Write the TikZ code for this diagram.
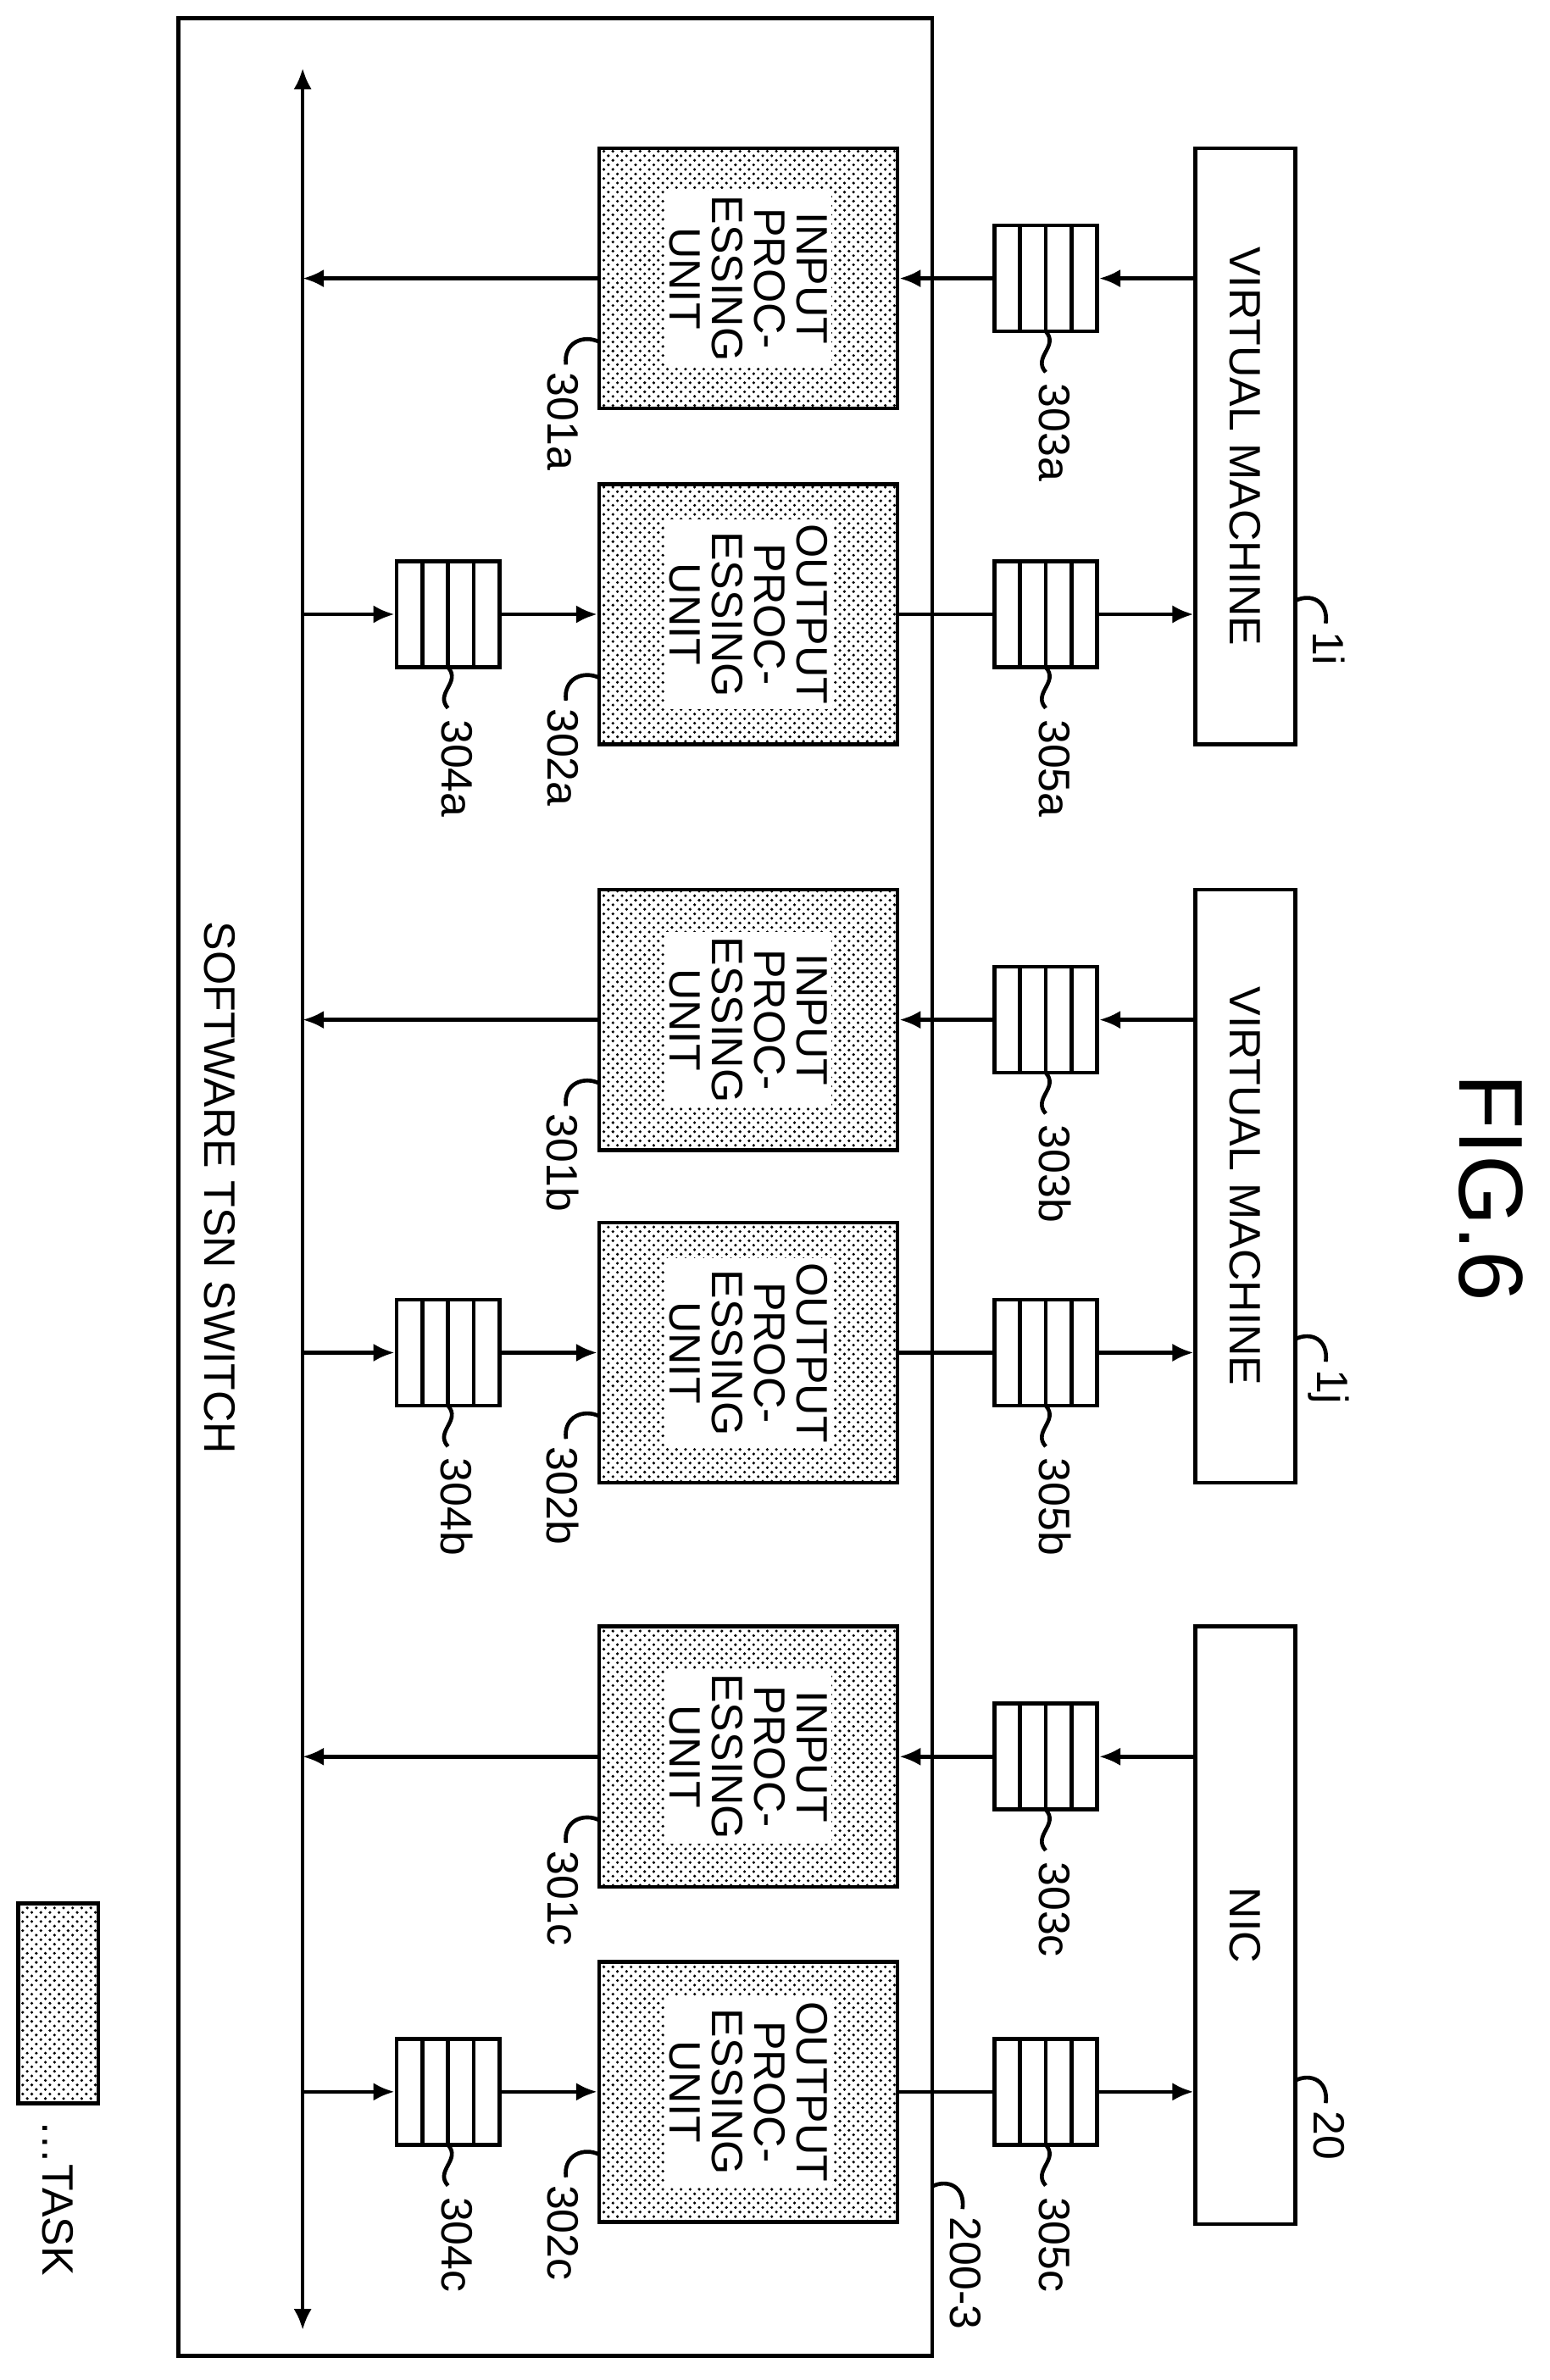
\documentclass[tikz,border=0pt]{standalone}
\usepackage{fontspec}
\setmainfont{Liberation Sans}
\usetikzlibrary{arrows.meta,patterns,calc}
\begin{document}
\begin{tikzpicture}[x=0.5pt,y=-0.5pt,line width=1.3pt,
  arr/.style={-{Latex[length=7pt,width=6pt]}},
  box/.style={draw,minimum width=33pt,minimum height=#1,inner sep=0pt},
  unit/.style={draw,pattern=crosshatch dots,minimum width=98.5pt,minimum height=86pt,inner sep=0pt},
  utext/.style={fill=white,rotate=-90,align=center,font=\fontsize{14.5}{14}\selectfont,inner sep=1.5pt},
  lab/.style={rotate=-90,anchor=west,font=\fontsize{14.5}{16}\selectfont,inner sep=1pt},
  queue/.style={draw,fill=white,minimum width=34pt,minimum height=35pt,inner sep=0pt}]
\useasboundingbox (0,0) rectangle (1024,1573);
\newcommand\Q[3]{\node[queue] (#1) at (#2,#3) {};
  \foreach \i in {-17,0,17} \draw (#2+\i,#3-35) -- (#2+\i,#3+35);
  \draw (#2,#3+35) .. controls (#2+9,#3+45) and (#2-9,#3+52) .. (#2,#3+62);}
\newcommand\UL[3]{\draw (396,#2) .. controls (386,#2-5) and (372,#2) .. (374,#2+15);
  \node[lab] (#1) at (372,#2+17) {#3};}
% frame
\node[draw,minimum width=249pt,minimum height=772.5pt,inner sep=0pt] (sw) at (367,784.5) {};
\node[rotate=-90,font=\fontsize{14.5}{16}\selectfont] (swl) at (145,785) {SOFTWARE TSN SWITCH};
\node[rotate=-90,font=\fontsize{30}{32}\selectfont] (fig) at (985,785) {FIG.6};
\coordinate (bt) at (200,45); \coordinate (bb) at (200,1540);
\draw[{Latex[length=7pt,width=6pt]}-{Latex[length=7pt,width=6pt]}] (bt) -- (bb);
% VMs
\node[box=197pt] (vm1) at (823,295) {}; \node[rotate=-90,font=\fontsize{14.5}{16}\selectfont] at (vm1) {VIRTUAL MACHINE};
\node[box=196pt] (vm2) at (823,784) {}; \node[rotate=-90,font=\fontsize{14.5}{16}\selectfont] at (vm2) {VIRTUAL MACHINE};
\node[box=197.5pt] (nic) at (823,1272.5) {}; \node[rotate=-90,font=\fontsize{14.5}{16}\selectfont] at (nic) {NIC};
\draw (856,397) .. controls (866,392) and (878,397) .. (876,412); \node[lab] at (878,414) {1i};
\draw (856,885) .. controls (866,880) and (878,885) .. (876,900); \node[lab] at (878,902) {1j};
\draw (856,1375) .. controls (866,1370) and (878,1375) .. (876,1390); \node[lab] at (878,1392) {20};
\draw (616,1445) .. controls (626,1440) and (638,1445) .. (636,1460); \node[lab] at (638,1462) {200-3};
% units
\foreach \n/\y/\t in {301a/184/INPUT,302a/406/OUTPUT,301b/674/INPUT,302b/894/OUTPUT,301c/1161/INPUT,302c/1382.5/OUTPUT}{
  \node[unit] (u\n) at (494.5,\y) {};
  \node[utext] at (u\n) {\t\\PROC-\\ESSING\\UNIT};
}
\UL{l301a}{226}{301a}\UL{l302a}{448}{302a}
\UL{l301b}{716}{301b}\UL{l302b}{936}{302b}
\UL{l301c}{1203}{301c}\UL{l302c}{1424}{302c}
% queues
\Q{q303a}{691}{184}\Q{q305a}{691}{406}\Q{q304a}{296}{406}
\Q{q303b}{691}{674}\Q{q305b}{691}{894}\Q{q304b}{296}{894}
\Q{q303c}{691}{1161}\Q{q305c}{691}{1382.5}\Q{q304c}{296}{1382.5}
\foreach \q in {303a,305a,304a,303b,305b,304b,303c,305c,304c}{
  \node[lab] at ($(q\q.south)+(6,30)$) {\q};}
% arrows
\foreach \v/\i/\o/\pi/\po in {vm1/303a/305a/301a/302a,vm2/303b/305b/301b/302b,nic/303c/305c/301c/302c}{
  \draw[arr] (\v.west |- q\i.east) -- (q\i.east);
  \draw[arr] (q\i.west) -- (u\pi.east);
  \draw[arr] (u\pi.west) -- (bt |- u\pi.west);
  \draw (u\po.east) -- (q\o.west);
  \draw[arr] (q\o.east) -- (\v.west |- q\o.east);
}
\foreach \o/\q in {302a/304a,302b/304b,302c/304c}{
  \draw[arr] (bt |- q\q.west) -- (q\q.west);
  \draw[arr] (q\q.east) -- (u\o.west);
}
% legend
\node[draw,pattern=crosshatch dots,minimum width=26.5pt,minimum height=66pt,inner sep=0pt] (leg) at (38.5,1324) {};
\node[lab] (legt) at (38,1398) {…TASK};
\end{tikzpicture}
\end{document}
